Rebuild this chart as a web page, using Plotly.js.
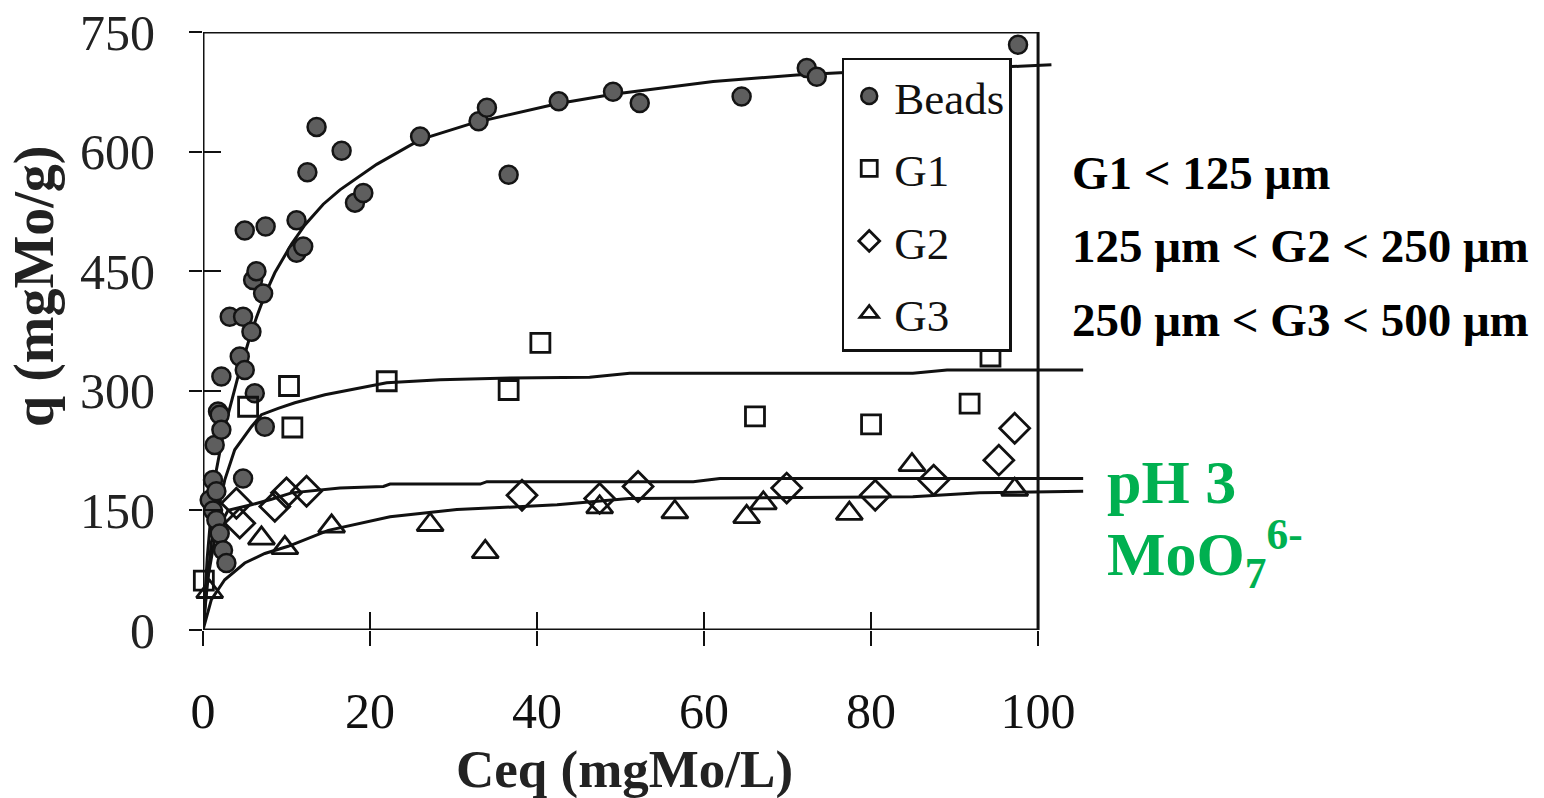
<!DOCTYPE html>
<html>
<head>
<meta charset="utf-8">
<script src="https://cdn.plot.ly/plotly-3.0.1.min.js"></script>
<style>html,body{margin:0;padding:0;background:#fff;}#chart{width:1544px;height:798px;}</style>
</head>
<body>
<div id="chart"></div>
<script>
// ---- Data ----
const seriesNames = ['Beads', 'G1', 'G2', 'G3'];

const beadsX = [0.8,1.2,1.2,1.4,1.6,1.6,1.8,2.0,2.0,2.2,2.2,2.4,2.8,3.2,4.4,4.8,4.8,5.0,5.0,5.8,6.0,6.2,6.4,7.2,7.4,7.5,11.2,11.2,12.0,12.5,13.6,16.6,18.2,19.2,26,33,34,36.6,42.6,49.1,52.3,64.5,72.3,73.5,97.6];
const beadsY = [163,150,188,232,138,174,274,121,270,251,318,100,84,393,343,190,393,326,501,374,439,297,450,422,255,506,473,514,481,574,631,601,536,548,619,638,655,571,663,675,661,669,705,694,734];

const g1X = [0.1,5.4,10.3,10.7,22,36.6,40.4,66.1,80,91.8,94.3];
const g1Y = [62,280,306,254,312,301,360,268,258,284,343];

const g2X = [4.0,4.4,8.6,10,12.4,38.2,47.5,52.1,69.9,80.5,87.5,95.3,97.2];
const g2Y = [159,134,155,172,174,169,165,180,178,169,188,213,253];

const g3X = [0.8,7.0,9.8,15.4,27.2,33.8,47.5,56.5,65.1,67.1,77.4,84.9,97.2];
const g3Y = [48,115,103,130,132,98,154,148,142,159,146,207,176];

// fitted curves
const beadsFitX = [0,0.5,1.0,1.5,2.5,3.4,4.2,5.4,6.4,7.4,8.6,10.6,12.2,14.4,16.4,20.8,26,32.4,38.4,42.4,49.1,61.1,71.1,76.3,97.8,101.6];
const beadsFitY = [0,90,150,195,250,285,318,360,392,420,448,484,508,534,552,584,615,636,650,660,672,688,696,699,707,709];

const g1FitX = [0,1,2.6,3.8,5.8,7,9,11,14.6,22,28.4,36.8,46.3,51.1,85,89.1,105.4];
const g1FitY = [0,110,188,226,255,270,278,285,295,310,314,316,317,322,322,326,326];

const g2FitX = [0,0.5,1.5,3,5.8,8.2,10.6,14.6,16.4,21.6,22.4,33.2,34,58.7,61.9,105.4];
const g2FitY = [0,60,120,150,157,164,172,176,178,180,183,183,186,186,190,190];

const g3FitX = [0,1,2.6,5,7.4,10.2,15,22.4,30.4,42.4,51,85,93,105.4];
const g3FitY = [0,38,63,84,96,105,125,142,151,157,165,167,172,174];

const xTicks = [0,20,40,60,80,100];
const yTicks = [0,150,300,450,600,750];

// ---- Styling ----
const ink = '#111';
const serif = 'Liberation Serif, Times New Roman, serif';

function fit(x, y) {
  return {x: x, y: y, type: 'scatter', mode: 'lines', showlegend: false, hoverinfo: 'skip',
          line: {color: ink, width: 3}};
}

const traces = [
  fit(beadsFitX, beadsFitY), fit(g1FitX, g1FitY), fit(g2FitX, g2FitY), fit(g3FitX, g3FitY),
  {x: beadsX, y: beadsY, name: seriesNames[0], legendgroup: 'a', type: 'scatter', mode: 'markers', cliponaxis: false,
   marker: {symbol: 'circle', size: 18, color: '#5e5e5e', line: {color: '#141414', width: 2.5}}},
  {x: g1X, y: g1Y, name: seriesNames[1], legendgroup: 'b', type: 'scatter', mode: 'markers', cliponaxis: false,
   marker: {symbol: 'square-open', size: 19, color: ink, line: {color: ink, width: 2.8}}},
  {x: g2X, y: g2Y, name: seriesNames[2], legendgroup: 'c', type: 'scatter', mode: 'markers', cliponaxis: false,
   marker: {symbol: 'diamond-open', size: 23, color: ink, line: {color: ink, width: 2.8}}},
  {x: g3X, y: g3Y, name: seriesNames[3], legendgroup: 'd', type: 'scatter', mode: 'markers', cliponaxis: false,
   marker: {symbol: 'triangle-up-open', size: 23, color: ink, line: {color: ink, width: 2.8}}},
  {x: [null], y: [null], xaxis: 'x2', yaxis: 'y2', type: 'scatter', mode: 'markers', showlegend: false, hoverinfo: 'skip'}
];

const xr = [0, 105.5];
const yr = [0, 750];

const layout = {
  width: 1544, height: 798,
  margin: {l: 203, r: 460, t: 32, b: 168},
  paper_bgcolor: '#fff', plot_bgcolor: '#fff',
  font: {family: serif, color: ink},
  showlegend: true,
  legend: {x: 0.725, y: 0.957, xanchor: 'left', yanchor: 'top', bgcolor: '#fff', bordercolor: ink, borderwidth: 2.5,
           font: {size: 45, family: serif, color: ink}, tracegroupgap: 11, traceorder: 'grouped', itemwidth: 40},
  xaxis: {range: xr, tickvals: xTicks, ticktext: xTicks.map(String), ticks: 'outside', ticklen: 15, tickwidth: 2, tickcolor: ink,
          showgrid: false, zeroline: false, showline: false, tickfont: {size: 50, family: serif, color: ink},
          ticklabelstandoff: 22},
  xaxis2: {range: xr, overlaying: 'x', anchor: 'y2', tickvals: xTicks, ticks: 'inside', ticklen: 18, tickwidth: 2, tickcolor: ink,
           showgrid: false, zeroline: false, showline: false, showticklabels: false},
  yaxis: {range: yr, tickvals: yTicks, ticktext: yTicks.map(String), ticks: 'outside', ticklen: 13, tickwidth: 2, tickcolor: ink,
          showgrid: false, zeroline: false, showline: false, tickfont: {size: 50, family: serif, color: '#222'},
          ticklabelstandoff: 24},
  yaxis2: {range: yr, overlaying: 'y', anchor: 'x2', tickvals: yTicks, ticks: 'inside', ticklen: 18, tickwidth: 2, tickcolor: ink,
           showgrid: false, zeroline: false, showline: false, showticklabels: false},
  shapes: [{type: 'rect', xref: 'x', yref: 'y', x0: 0, x1: 100, y0: 0, y1: 750, line: {color: ink, width: 3}, layer: 'below'}],
  annotations: [
    {xref: 'paper', yref: 'paper', x: 0.478, y: -0.234, xanchor: 'center', yanchor: 'middle', showarrow: false,
     text: 'Ceq (mgMo/L)', font: {size: 53, family: serif, color: '#222', weight: 'bold'}},
    {xref: 'paper', yref: 'paper', x: -0.192, y: 0.575, xanchor: 'center', yanchor: 'middle', showarrow: false, textangle: -90,
     text: 'q (mgMo/g)', font: {size: 56, family: serif, color: '#222', weight: 'bold'}},
    {xref: 'paper', yref: 'paper', x: 0.984, y: 0.764, xanchor: 'left', yanchor: 'middle', showarrow: false,
     text: 'G1 < 125 μm', font: {size: 47, family: serif, color: '#000', weight: 'bold'}},
    {xref: 'paper', yref: 'paper', x: 0.984, y: 0.642, xanchor: 'left', yanchor: 'middle', showarrow: false,
     text: '125 μm < G2 < 250 μm', font: {size: 47, family: serif, color: '#000', weight: 'bold'}},
    {xref: 'paper', yref: 'paper', x: 0.984, y: 0.518, xanchor: 'left', yanchor: 'middle', showarrow: false,
     text: '250 μm < G3 < 500 μm', font: {size: 47, family: serif, color: '#000', weight: 'bold'}},
    {xref: 'paper', yref: 'paper', x: 1.024, y: 0.247, xanchor: 'left', yanchor: 'middle', showarrow: false,
     text: 'pH 3', font: {size: 62, family: serif, color: '#00b050', weight: 'bold'}},
    {xref: 'paper', yref: 'paper', x: 1.024, y: 0.128, xanchor: 'left', yanchor: 'middle', showarrow: false,
     text: 'MoO<sub>7</sub><sup>6-</sup>', font: {size: 62, family: serif, color: '#00b050', weight: 'bold'}}
  ]
};

Plotly.newPlot('chart', traces, layout, {displayModeBar: false, staticPlot: true});
</script>
</body>
</html>
